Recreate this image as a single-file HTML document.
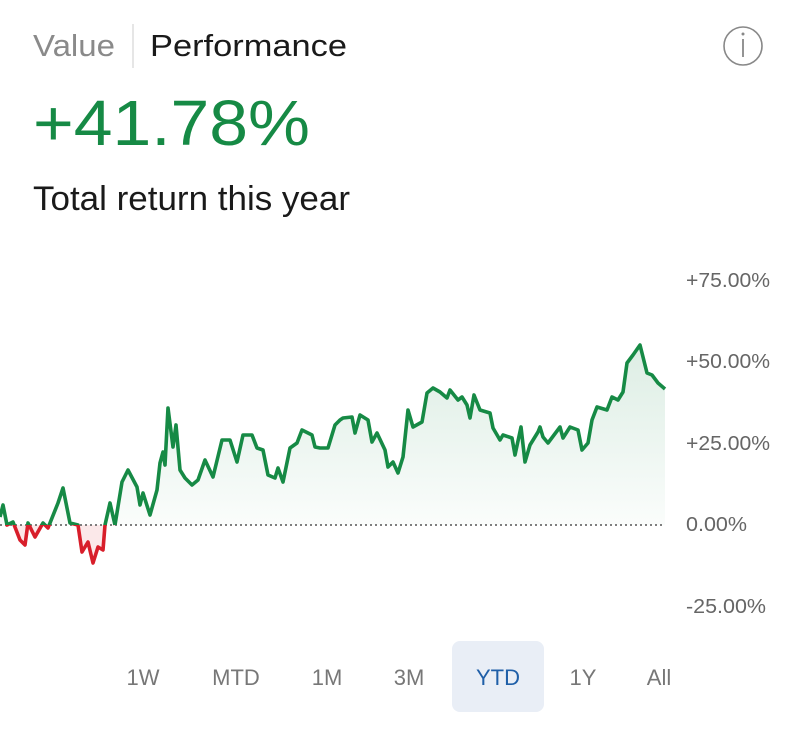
<!DOCTYPE html>
<html><head><meta charset="utf-8"><style>
html,body{margin:0;padding:0;background:#fff;width:800px;height:742px;overflow:hidden}
svg{display:block}
text{font-family:"Liberation Sans",sans-serif}
</style></head><body>
<svg width="800" height="742" viewBox="0 0 800 742">
<defs>
<linearGradient id="g2" x1="0" y1="345" x2="0" y2="525" gradientUnits="userSpaceOnUse">
<stop offset="0" stop-color="#1a8a4a" stop-opacity="0.15"/>
<stop offset="1" stop-color="#1a8a4a" stop-opacity="0.02"/>
</linearGradient>
<clipPath id="above"><rect x="0" y="0" width="800" height="525"/></clipPath>
<clipPath id="below"><rect x="0" y="525" width="800" height="200"/></clipPath>
</defs>
<text x="33" y="56" font-size="31" fill="#8a8a8a" textLength="82" lengthAdjust="spacingAndGlyphs">Value</text>
<line x1="133" y1="24" x2="133" y2="68" stroke="#ddd" stroke-width="1.5"/>
<text x="150" y="56" font-size="31" fill="#1a1a1a" textLength="197" lengthAdjust="spacingAndGlyphs">Performance</text>
<circle cx="743" cy="46" r="19" fill="none" stroke="#888" stroke-width="1.6"/>
<line x1="743" y1="39" x2="743" y2="57" stroke="#888" stroke-width="1.8"/>
<circle cx="743" cy="34" r="1.5" fill="#888"/>
<text x="33" y="145" font-size="64" fill="#168a45" textLength="277" lengthAdjust="spacingAndGlyphs">+41.78%</text>
<text x="33" y="210" font-size="34" fill="#1a1a1a" textLength="317" lengthAdjust="spacingAndGlyphs">Total return this year</text>

<g font-size="20" fill="#666">
<text x="686" y="287" textLength="84" lengthAdjust="spacingAndGlyphs">+75.00%</text>
<text x="686" y="368" textLength="84" lengthAdjust="spacingAndGlyphs">+50.00%</text>
<text x="686" y="450" textLength="84" lengthAdjust="spacingAndGlyphs">+25.00%</text>
<text x="686" y="531" textLength="61" lengthAdjust="spacingAndGlyphs">0.00%</text>
<text x="686" y="613" textLength="80" lengthAdjust="spacingAndGlyphs">-25.00%</text>
</g>

<path clip-path="url(#above)" fill="url(#g2)" d="M0,525 L0,517 3,505 7,525 13,522 20,540 25,545 28,523 35,537 43,523 48,528 58,503 63,488 70,523 78,525 82,552 88,542 93,563 98,547 103,550 105,525 110,503 115,525 122,482 128,470 137,487 140,505 143,493 150,515 157,490 160,463 163,452 165,465 168,408 173,447 176,425 180,470 185,478 192,485 198,480 205,460 213,477 222,440 230,440 237,462 243,435 252,435 257,448 263,450 268,475 275,478 278,468 283,482 290,448 297,443 302,430 312,435 315,447 320,448 328,448 335,425 340,420 343,418 352,417 355,433 360,415 368,420 372,442 377,433 385,450 388,467 393,462 398,473 403,457 408,410 413,427 422,422 427,393 433,388 440,392 447,398 450,390 458,400 462,397 467,405 470,418 474,395 480,410 490,413 493,428 500,440 503,435 512,438 515,455 521,427 525,462 530,445 538,432 540,427 543,437 548,443 560,427 563,438 570,427 578,430 582,450 588,443 592,420 597,407 607,410 612,397 618,400 623,392 627,363 633,355 640,345 647,373 652,375 658,383 665,389 L665,525 Z"/>
<path clip-path="url(#below)" fill="#d81e2a" fill-opacity="0.1" d="M0,525 L0,517 3,505 7,525 13,522 20,540 25,545 28,523 35,537 43,523 48,528 58,503 63,488 70,523 78,525 82,552 88,542 93,563 98,547 103,550 105,525 110,503 L110,525 Z"/>
<line x1="0" y1="525" x2="665" y2="525" stroke="#555" stroke-width="1.5" stroke-dasharray="2,3"/>
<polyline fill="none" stroke-width="3.6" stroke-linejoin="round" clip-path="url(#above)" stroke="#168a45" points="0,517 3,505 7,525 13,522 20,540 25,545 28,523 35,537 43,523 48,528 58,503 63,488 70,523 78,525 82,552 88,542 93,563 98,547 103,550 105,525 110,503 115,525 122,482 128,470 137,487 140,505 143,493 150,515 157,490 160,463 163,452 165,465 168,408 173,447 176,425 180,470 185,478 192,485 198,480 205,460 213,477 222,440 230,440 237,462 243,435 252,435 257,448 263,450 268,475 275,478 278,468 283,482 290,448 297,443 302,430 312,435 315,447 320,448 328,448 335,425 340,420 343,418 352,417 355,433 360,415 368,420 372,442 377,433 385,450 388,467 393,462 398,473 403,457 408,410 413,427 422,422 427,393 433,388 440,392 447,398 450,390 458,400 462,397 467,405 470,418 474,395 480,410 490,413 493,428 500,440 503,435 512,438 515,455 521,427 525,462 530,445 538,432 540,427 543,437 548,443 560,427 563,438 570,427 578,430 582,450 588,443 592,420 597,407 607,410 612,397 618,400 623,392 627,363 633,355 640,345 647,373 652,375 658,383 665,389"/>
<polyline fill="none" stroke-width="3.6" stroke-linejoin="round" clip-path="url(#below)" stroke="#d81e2a" points="0,517 3,505 7,525 13,522 20,540 25,545 28,523 35,537 43,523 48,528 58,503 63,488 70,523 78,525 82,552 88,542 93,563 98,547 103,550 105,525 110,503 115,525"/>

<rect x="452" y="641" width="92" height="71" rx="8" fill="#e9eef6"/>
<g font-size="22" fill="#777" text-anchor="middle">
<text x="143" y="685">1W</text>
<text x="236" y="685">MTD</text>
<text x="327" y="685">1M</text>
<text x="409" y="685">3M</text>
<text x="498" y="685" fill="#1f5fa8">YTD</text>
<text x="583" y="685">1Y</text>
<text x="659" y="685">All</text>
</g>
</svg>
</body></html>
